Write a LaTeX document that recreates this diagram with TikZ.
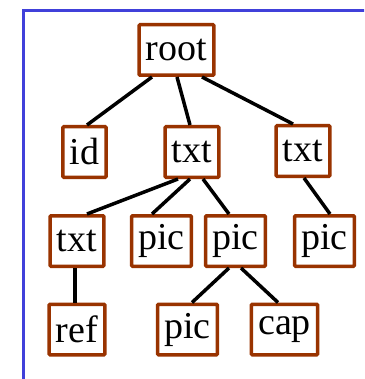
\documentclass[tikz,border=0pt]{standalone}
\usepackage{fontspec}
\setmainfont{Liberation Serif}
\definecolor{boxbrown}{RGB}{153,51,0}
\definecolor{frameblue}{RGB}{64,64,218}
\begin{document}
\begin{tikzpicture}[x=1pt,y=1pt,
  treenode/.style={draw=boxbrown, line width=3.5pt, rounded corners=1pt, fill=white,
    minimum height=50.5pt, inner xsep=6.75pt, inner ysep=0pt,
    font=\fontsize{38}{40}\selectfont},
  edge/.style={line width=3.5pt, black}]
\useasboundingbox (0,0) rectangle (364,-379);
\clip (0,0) rectangle (364,-379);
% outer frame, running past the right and bottom edges
\draw[frameblue, line width=3.5pt] (23.5,-400) -- (23.5,-10.5) -- (400,-10.5);

% level 1
\node[treenode] (root) at (176.5,-50) {root};
% level 2
\node[treenode] (id)   at (84.5,-152) {id};
\node[treenode] (txtA) at (192,-152) {txt};
\node[treenode] (txtB) at (303,-151) {txt};
% level 3
\node[treenode] (txtC) at (77,-241) {txt};
\node[treenode] (picA) at (161.5,-241) {pic};
\node[treenode] (picB) at (235.5,-241) {pic};
\node[treenode] (picC) at (324.5,-241) {pic};
% level 4
\node[treenode] (ref)  at (77,-329.5) {ref};
\node[treenode] (picD) at (187.5,-329.5) {pic};
\node[treenode] (cap)  at (284.5,-329.5) {cap};

% connectors
\draw[edge] ([xshift=-24.5pt]root.south) -- ([xshift=2.5pt]id.north);
\draw[edge] ([xshift=0.5pt]root.south) -- ([xshift=-2pt]txtA.north);
\draw[edge] ([xshift=25.5pt]root.south) -- ([xshift=-10pt]txtB.north);
\draw[edge] ([xshift=-14pt]txtA.south) -- ([xshift=10pt]txtC.north);
\draw[edge] ([xshift=-2pt]txtA.south) -- ([xshift=-9.5pt]picA.north);
\draw[edge] ([xshift=11pt]txtA.south) -- ([xshift=-6.5pt]picB.north);
\draw[edge] ([xshift=1pt]txtB.south) -- ([xshift=5.5pt]picC.north);
\draw[edge] ([xshift=-2pt]txtC.south) -- ([xshift=-2pt]ref.north);
\draw[edge] ([xshift=-6.5pt]picB.south) -- ([xshift=4.5pt]picD.north);
\draw[edge] ([xshift=5.5pt]picB.south) -- ([xshift=-6.5pt]cap.north);
\end{tikzpicture}
\end{document}
